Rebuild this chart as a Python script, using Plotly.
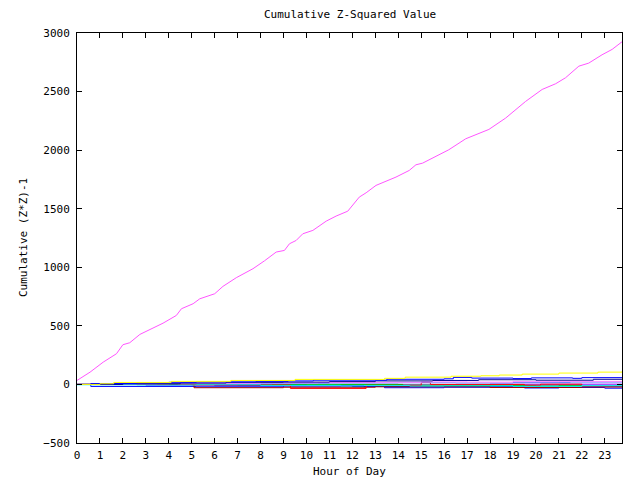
import plotly.graph_objects as go

# ---- data ----
mag_hours = [0, 0.57, 1.14, 1.72, 2.0, 2.3, 2.74, 3.17, 3.75, 4.33, 4.55, 5.06, 5.35, 6.0,
             6.36, 6.94, 7.67, 8.17, 8.68, 9.04, 9.26, 9.55, 9.84, 10.28, 10.86, 11.29,
             11.8, 12.3, 12.6, 13.03, 13.6, 13.9, 14.48, 14.77, 15.06, 15.78, 16.2, 16.94,
             17.95, 18.68, 19.55, 20.27, 20.86, 21.29, 21.87, 22.3, 22.88, 23.32, 23.68, 23.75]
mag_values = [34, 105, 190, 262, 339, 356, 427, 467, 523, 589, 646, 689, 731, 774,
              837, 911, 988, 1055, 1130, 1144, 1201, 1229, 1286, 1315, 1394, 1437,
              1479, 1599, 1636, 1699, 1741, 1770, 1827, 1875, 1889, 1965, 2003, 2097,
              2177, 2274, 2416, 2518, 2567, 2618, 2717, 2743, 2814, 2860, 2917, 2925]

yellow_hours = [0, 1.0, 1.6, 4.1, 6.7, 9.5, 13.4, 14.3, 16.3, 17.6, 18.4, 19.4, 21.0, 22.7, 23.75]
yellow_values = [0, 6, 17, 26, 34, 43, 52, 62, 70, 74, 80, 88, 97, 105, 110]

blue_a_hours = [0, 0.6, 2.6, 4.0, 5.2, 7.8, 9.2, 10.3, 13.5, 16.0, 16.4, 17.2, 19.0, 19.8, 21.6, 22.0, 23.75]
blue_a_values = [0, 8, 14, 18, 22, 26, 30, 36, 44, 48, 60, 54, 50, 56, 52, 58, 58]

navy_hours = [0, 2.0, 4.5, 6.5, 9.0, 11.0, 13.0, 15.5, 17.5, 20.0, 22.5, 23.75]
navy_values = [0, 6, 12, 18, 20, 24, 30, 34, 40, 36, 44, 44]

pink_hours = [0, 1.5, 2.6, 5.0, 8.0, 10.5, 13.5, 15.0, 17.0, 19.0, 21.0, 23.75]
pink_values = [0, 8, 12, 10, 14, 16, 18, 22, 20, 24, 26, 26]

lblue_hours = [0, 1.2, 3.5, 6.0, 8.5, 11.0, 14.0, 16.5, 19.0, 21.5, 23.75]
lblue_values = [0, 4, 8, 6, 10, 12, 14, 12, 16, 20, 20]

cyan_hours = [0, 2.6, 5.2, 8.0, 11.5, 12.5, 14.5, 16.0, 19.0, 22.0, 23.75]
cyan_values = [-3, -5, -3, -8, -12, -10, -14, -12, -16, -10, -10]

red_hours = [0, 4.0, 4.4, 5.0, 9.3, 12.6, 15.0, 15.4, 19.5, 20.2, 22.0, 23.75]
red_values = [0, 8, 0, -4, -34, -8, 16, 0, -6, 2, -10, -10]

dred_hours = [0, 5.1, 9.0, 13.0, 18.0, 22.0, 23.75]
dred_values = [0, -28, -24, -20, -26, -22, -22]

green_hours = [0, 14.2, 16.0, 20.0, 21.0, 23.75]
green_values = [0, -6, -10, -14, -10, -10]

blue_c_hours = [0, 0.6, 5.2, 9.0, 13.4, 16.0, 18.0, 19.5, 21.0, 23.0, 23.75]
blue_c_values = [0, -17, -20, -14, -28, -24, -20, -30, -26, -32, -32]

violet_hours = [0, 3.0, 7.0, 10.0, 14.0, 18.0, 23.75]
violet_values = [0, -6, -2, -8, -4, 2, 2]

dblue_hours = [0, 6.0, 12.0, 18.0, 23.75]
dblue_values = [0, -10, -18, -14, -14]

x_tick_vals = list(range(0, 24))
x_tick_text = [str(h) for h in x_tick_vals]
y_tick_vals = [-500, 0, 500, 1000, 1500, 2000, 2500, 3000]

step_series = [
    (dblue_hours, dblue_values, "#0000c0"),
    (violet_hours, violet_values, "#8000ff"),
    (blue_c_hours, blue_c_values, "#0000ff"),
    (green_hours, green_values, "#00c000"),
    (dred_hours, dred_values, "#a00000"),
    (red_hours, red_values, "#ff0000"),
    (cyan_hours, cyan_values, "#00ffff"),
    (lblue_hours, lblue_values, "#6080ff"),
    (pink_hours, pink_values, "#ff80ff"),
    (navy_hours, navy_values, "#000090"),
    (blue_a_hours, blue_a_values, "#0000ff"),
    (yellow_hours, yellow_values, "#ffff00"),
]

FONT = "DejaVu Sans Mono"

fig = go.Figure()
for hx, hy, col in step_series:
    fig.add_trace(go.Scatter(x=hx, y=hy, mode="lines", line=dict(color=col, width=1, shape="hv"),
                             showlegend=False, hoverinfo="skip"))
fig.add_trace(go.Scatter(x=mag_hours, y=mag_values, mode="lines",
                         line=dict(color="#ff55ff", width=1), showlegend=False))

axis_common = dict(showline=True, linecolor="black", linewidth=1, mirror="ticks",
                   ticks="inside", ticklen=5, tickwidth=1, tickcolor="black",
                   showgrid=False, zeroline=False,
                   tickfont=dict(family=FONT, size=11, color="black"))

# plot area in pixels: left 77, right 622, top 33, bottom 443
PL, PR, PT, PB = 77, 622, 33, 443


def px_to_paper(px, py):
    return (px - PL) / (PR - PL), (PB - py) / (PB - PT)


tx, ty = px_to_paper(349.5, 15)
xx, xy = px_to_paper(349.5, 471)
yx, yy = px_to_paper(23, 238)

fig.update_layout(
    width=640, height=480,
    margin=dict(l=PL, r=640 - PR, t=PT, b=480 - PB),
    paper_bgcolor="white", plot_bgcolor="white",
    xaxis=dict(range=[0, 23.75], tickvals=x_tick_vals, ticktext=x_tick_text,
               ticklabelstandoff=2, **axis_common),
    yaxis=dict(range=[-500, 3000], tickvals=y_tick_vals, ticklabelstandoff=4, **axis_common),
    annotations=[
        dict(text="Cumulative Z-Squared Value", x=tx, y=ty, xref="paper", yref="paper",
             showarrow=False, font=dict(family=FONT, size=11, color="black"),
             xanchor="center", yanchor="middle"),
        dict(text="Hour of Day", x=xx, y=xy, xref="paper", yref="paper",
             showarrow=False, font=dict(family=FONT, size=11, color="black"),
             xanchor="center", yanchor="middle"),
        dict(text="Cumulative (Z*Z)-1", x=yx, y=yy, xref="paper", yref="paper",
             textangle=-90, showarrow=False, font=dict(family=FONT, size=11, color="black"),
             xanchor="center", yanchor="middle"),
    ],
)

fig.write_html("out.html")
